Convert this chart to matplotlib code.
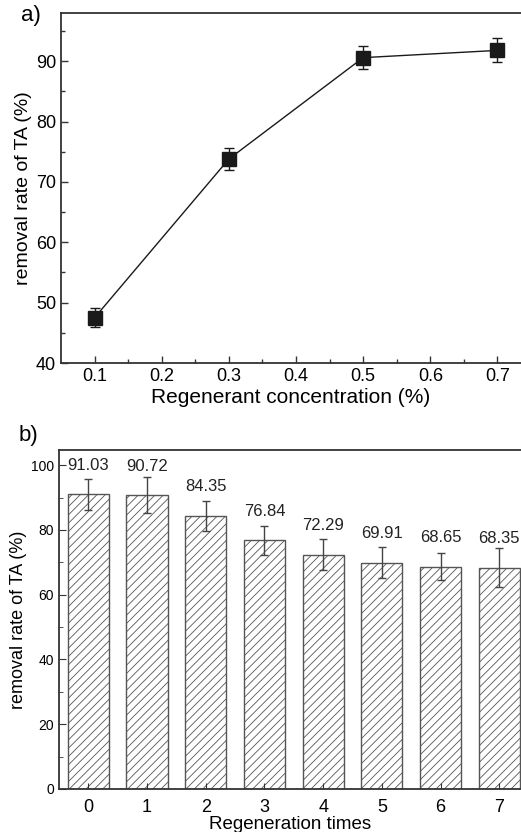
import numpy as np
import matplotlib.pyplot as plt

# panel a) data
conc = [0.1, 0.3, 0.5, 0.7]
rate_a = [47.5, 73.8, 90.6, 91.8]
err_a = [1.6, 1.9, 1.9, 2.0]

# panel b) data
times = [0, 1, 2, 3, 4, 5, 6, 7]
rate_b = [91.03, 90.72, 84.35, 76.84, 72.29, 69.91, 68.65, 68.35]
err_b = [4.8, 5.6, 4.7, 4.5, 4.8, 4.7, 4.2, 6.1]
labels_b = ["91.03", "90.72", "84.35", "76.84", "72.29", "69.91", "68.65", "68.35"]

plt.rcParams['font.family'] = ['Liberation Sans', 'DejaVu Sans']
plt.rcParams['hatch.linewidth'] = 0.6

fig = plt.figure(figsize=(5.21, 8.32), dpi=100)

# ---- a) ----
ax1 = fig.add_axes([0.117, 0.5637, 0.883, 0.4207])
ax1.errorbar(conc, rate_a, yerr=err_a, color='#1a1a1a', lw=1.0, marker='s',
             markersize=10, capsize=3.5, elinewidth=1.0, capthick=1.0)
ax1.set_xlim(0.05, 0.735)
ax1.set_ylim(40, 98)
ax1.set_xticks([0.1, 0.2, 0.3, 0.4, 0.5, 0.6, 0.7])
ax1.set_xticks(np.arange(0.15, 0.7, 0.1), minor=True)
ax1.set_yticks([40, 50, 60, 70, 80, 90])
ax1.set_yticks([45, 55, 65, 75, 85, 95], minor=True)
ax1.tick_params(which='both', direction='in', labelsize=13, width=1.0, color='#333333')
ax1.tick_params(which='major', length=5)
ax1.tick_params(which='minor', length=3)
ax1.set_xlabel("Regenerant concentration (%)", fontsize=15, labelpad=2)
ax1.set_ylabel("removal rate of TA (%)", fontsize=14, labelpad=3)
for s in ax1.spines.values():
    s.set_linewidth(1.3)
    s.set_color('#333333')
ax1.spines['right'].set_visible(False)
fig.text(0.06, 0.981, "a)", fontsize=16, ha='center', va='center')

# ---- b) ----
ax2 = fig.add_axes([0.1132, 0.0517, 0.8868, 0.4075])
ax2.bar(times, rate_b, width=0.7, color='white', edgecolor='#555555',
        hatch='////', linewidth=1.0)
ax2.errorbar(times, rate_b, yerr=err_b, fmt='none', ecolor='#444444',
             elinewidth=1.0, capsize=3, capthick=1.0)
for x, v, t in zip(times, rate_b, labels_b):
    ax2.text(x, v + 9, t, ha='center', va='center', fontsize=12, color='#222222')
ax2.set_xlim(-0.5, 7.37)
ax2.set_ylim(0, 104.7)
ax2.set_xticks(times)
ax2.set_yticks([0, 20, 40, 60, 80, 100])
ax2.set_yticks([10, 30, 50, 70, 90], minor=True)
ax2.tick_params(axis='y', which='both', direction='in', labelsize=10, color='#333333')
ax2.tick_params(axis='x', which='both', direction='in', labelsize=13, length=4,
                pad=7, color='#333333')
ax2.tick_params(which='major', axis='y', length=5)
ax2.tick_params(which='minor', length=3)
ax2.set_xlabel("Regeneration times", fontsize=13.5, labelpad=0)
ax2.set_ylabel("removal rate of TA (%)", fontsize=13, labelpad=3)
for s in ax2.spines.values():
    s.set_linewidth(1.3)
    s.set_color('#333333')
ax2.spines['right'].set_visible(False)
fig.text(0.055, 0.476, "b)", fontsize=16, ha='center', va='center')

fig.savefig("out.png", dpi=100)
